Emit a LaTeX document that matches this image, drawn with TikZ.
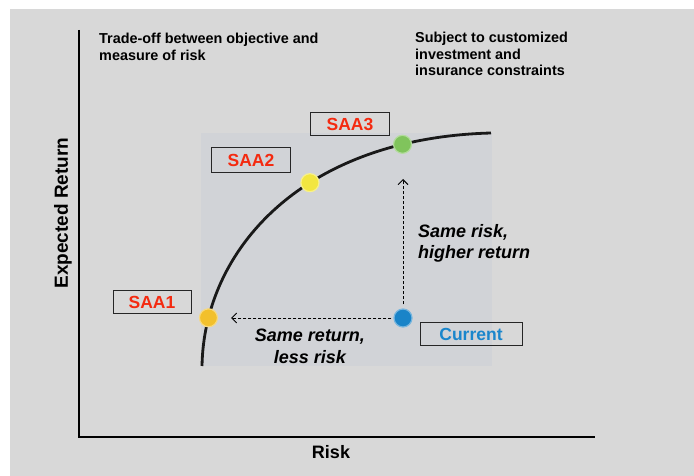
\documentclass[tikz,border=0pt]{standalone}
\usepackage{fontspec}
\setmainfont{Liberation Sans}
\usetikzlibrary{arrows.meta}
\definecolor{bggrey}{HTML}{D8D8D8}
\definecolor{innergrey}{HTML}{D1D3D7}
\definecolor{saared}{HTML}{F42A10}
\definecolor{curblue}{HTML}{1A86CC}
\definecolor{dotone}{HTML}{F2C02C}
\definecolor{dottwo}{HTML}{F2E640}
\definecolor{dotthree}{HTML}{80C45C}
\definecolor{dotcur}{HTML}{1A84C8}
\tikzset{
  labelbox/.style={draw=black!85, line width=1pt, inner sep=0pt, minimum height=23pt, font=\fontsize{17.5}{20}\selectfont\bfseries},
  dot/.style={circle, minimum size=18pt, inner sep=0pt, fill=#1, draw=#1!60!white, line width=1.2pt},
  note/.style={inner sep=0pt, align=left, font=\fontsize{14.4}{16.5}\selectfont\bfseries},
  remark/.style={inner sep=0pt, font=\fontsize{18}{21.5}\selectfont\bfseries\itshape},
  dasharrow/.style={densely dashed, line width=0.9pt, -{Straight Barb[length=5pt,width=10pt]}},
  axis/.style={line width=1.3pt},
  frontier/.style={line width=2.8pt, black!90}
}
\begin{document}
\begin{tikzpicture}[x=1pt,y=-1pt]
\useasboundingbox (0,0) rectangle (694,476);
\fill[white] (0,0) rectangle (694,476);
\fill[bggrey] (10,9) rectangle (694,476);
\fill[innergrey] (201,133) rectangle (492,366);

% axes
\coordinate (origin) at (79,437);
\coordinate (ytop) at (79,30);
\coordinate (xend) at (595,437);
\draw[axis] (ytop) -- (origin) -- (xend);

% frontier with its points
\coordinate (fstart) at (202,366);
\coordinate (fend) at (491,133);
\draw[frontier] (fstart) .. controls (204,250) and (302,138) .. (fend)
  node[dot=dotone, pos=0.14] (d1) {}
  node[dot=dottwo, pos=0.605] (d2) {}
  node[dot=dotthree, pos=0.83] (d3) {};

\node[dot=dotcur] (cur) at (403,318) {};

% labels
\node[labelbox, minimum width=78pt, text=saared] (l1) at (152,302) {SAA1};
\node[labelbox, minimum width=79pt, minimum height=25pt, text=saared] (l2) at (251,160) {SAA2};
\node[labelbox, minimum width=79pt, text=saared] (l3) at (350,124) {SAA3};
\node[labelbox, minimum width=102pt, text=curblue] (lc) at (471,334) {Current};

% arrows
\coordinate (lefttip) at (231,318);
\coordinate (uptip) at (403,179);
\draw[dasharrow, shorten <=2pt] (cur.west) -- (lefttip);
\draw[dasharrow, shorten <=4pt] (cur.north) -- (uptip);

% texts
\node[note, anchor=north west] (t1) at (99,33) {Trade-off between objective and\\measure of risk};
\node[note, anchor=north west] (t2) at (415,32) {Subject to customized\\investment and\\insurance constraints};
\node[remark, anchor=north west, align=left] (r1) at (418,224) {Same risk,\\higher return};
\node[remark, anchor=north, align=center] (r2) at (310,329) {Same return,\\less risk};

\node[inner sep=0pt, anchor=base, font=\fontsize{18}{20}\selectfont\bfseries] (xl) at (331,458) {Risk};
\node[inner sep=0pt, rotate=90, font=\fontsize{19}{21}\selectfont\bfseries] (yl) at (63,213) {Expected Return};
\end{tikzpicture}
\end{document}
